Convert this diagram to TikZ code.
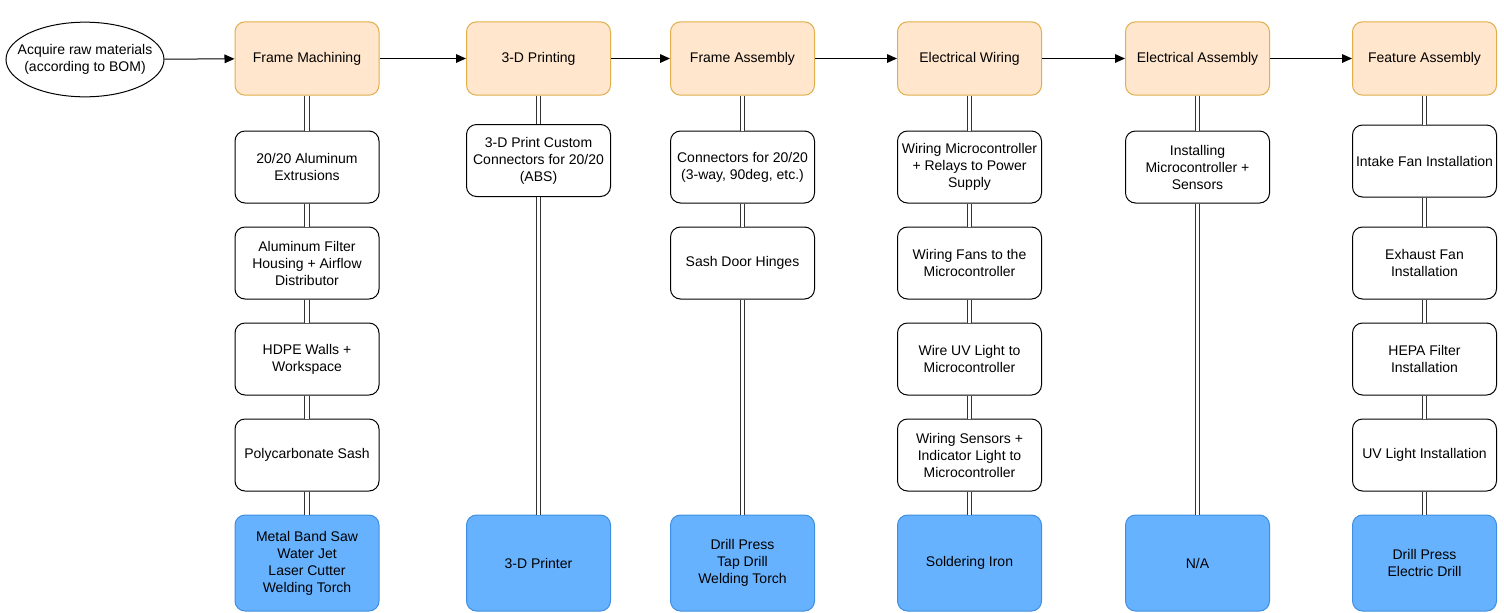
\documentclass[tikz,border=0pt]{standalone}
\usepackage{fontspec}
\setmainfont{Liberation Sans}
\usetikzlibrary{arrows.meta,shapes.geometric}
\definecolor{orfill}{HTML}{FFE6CC}
\definecolor{ordraw}{HTML}{E0AE4A}
\definecolor{blfill}{HTML}{66B2FF}
\definecolor{bldraw}{HTML}{3F8FE0}
\definecolor{linkc}{HTML}{333333}
\begin{document}
\begin{tikzpicture}[x=0.75pt,y=-0.75pt,
  font=\fontsize{10.5}{12.75}\selectfont,
  box/.style={draw=black, rounded corners=7.5pt, minimum width=108pt, minimum height=54pt,
    align=center, inner sep=1pt, fill=white, line width=0.75pt},
  head/.style={box, fill=orfill, draw=ordraw, minimum height=55pt},
  tool/.style={box, fill=blfill, draw=bldraw, minimum height=72pt},
  link/.style={draw=linkc, line width=0.75pt, double=white, double distance=2.8pt},
  flow/.style={draw=black, line width=0.75pt, -{Triangle[length=7.5pt,width=6.5pt]}}]
\useasboundingbox (0,0) rectangle (1504,612);

% start ellipse
\node[draw=black, ellipse, line width=0.75pt, minimum width=118.5pt, minimum height=56pt, inner sep=0pt]
  (start) at (85,59.5) {};
\node[align=center, inner sep=0pt] (starttext) at (start.center) {Acquire raw materials\\(according to BOM)};

% header row
\node[head] (h1) at (307,58.5) {Frame Machining};
\node[head] (h2) at (538.5,58.5) {3-D Printing};
\node[head] (h3) at (742.5,58.5) {Frame Assembly};
\node[head] (h4) at (969.5,58.5) {Electrical Wiring};
\node[head] (h5) at (1197.5,58.5) {Electrical Assembly};
\node[head] (h6) at (1424.5,58.5) {Feature Assembly};

\draw[flow] (start) -- (h1);
\draw[flow] (h1) -- (h2);
\draw[flow] (h2) -- (h3);
\draw[flow] (h3) -- (h4);
\draw[flow] (h4) -- (h5);
\draw[flow] (h5) -- (h6);

% column 1
\node[box] (a1) at (307,167) {20/20 Aluminum\\Extrusions};
\node[box] (a2) at (307,263) {Aluminum Filter\\Housing + Airflow\\Distributor};
\node[box] (a3) at (307,359) {HDPE Walls +\\Workspace};
\node[box] (a4) at (307,455) {Polycarbonate Sash};
\node[tool] (at) at (307,563) {Metal Band Saw\\Water Jet\\Laser Cutter\\Welding Torch};
\draw[link] (h1) -- (a1);
\draw[link] (a1) -- (a2);
\draw[link] (a2) -- (a3);
\draw[link] (a3) -- (a4);
\draw[link] (a4) -- (at);

% column 2
\node[box] (b1) at (538.5,160.5) {3-D Print Custom\\Connectors for 20/20\\(ABS)};
\node[tool] (bt) at (538.5,563) {3-D Printer};
\draw[link] (h2) -- (b1);
\draw[link] (b1) -- (bt);

% column 3
\node[box] (c1) at (742.5,167) {Connectors for 20/20\\(3-way, 90deg, etc.)};
\node[box] (c2) at (742.5,263) {Sash Door Hinges};
\node[tool] (ct) at (742.5,563) {Drill Press\\Tap Drill\\Welding Torch};
\draw[link] (h3) -- (c1);
\draw[link] (c1) -- (c2);
\draw[link] (c2) -- (ct);

% column 4
\node[box] (d1) at (969.5,167) {Wiring Microcontroller\\+ Relays to Power\\Supply};
\node[box] (d2) at (969.5,263) {Wiring Fans to the\\Microcontroller};
\node[box] (d3) at (969.5,359) {Wire UV Light to\\Microcontroller};
\node[box] (d4) at (969.5,455) {Wiring Sensors +\\Indicator Light to\\Microcontroller};
\node[tool] (dt) at (969.5,563) {Soldering Iron};
\draw[link] (h4) -- (d1);
\draw[link] (d1) -- (d2);
\draw[link] (d2) -- (d3);
\draw[link] (d3) -- (d4);
\draw[link] (d4) -- (dt);

% column 5
\node[box] (e1) at (1197.5,167) {Installing\\Microcontroller +\\Sensors};
\node[tool] (et) at (1197.5,563) {N/A};
\draw[link] (h5) -- (e1);
\draw[link] (e1) -- (et);

% column 6
\node[box] (f1) at (1424.5,161) {Intake Fan Installation};
\node[box] (f2) at (1424.5,263) {Exhaust Fan\\Installation};
\node[box] (f3) at (1424.5,359) {HEPA Filter\\Installation};
\node[box] (f4) at (1424.5,455) {UV Light Installation};
\node[tool] (ft) at (1424.5,563) {Drill Press\\Electric Drill};
\draw[link] (h6) -- (f1);
\draw[link] (f1) -- (f2);
\draw[link] (f2) -- (f3);
\draw[link] (f3) -- (f4);
\draw[link] (f4) -- (ft);
\end{tikzpicture}
\end{document}
